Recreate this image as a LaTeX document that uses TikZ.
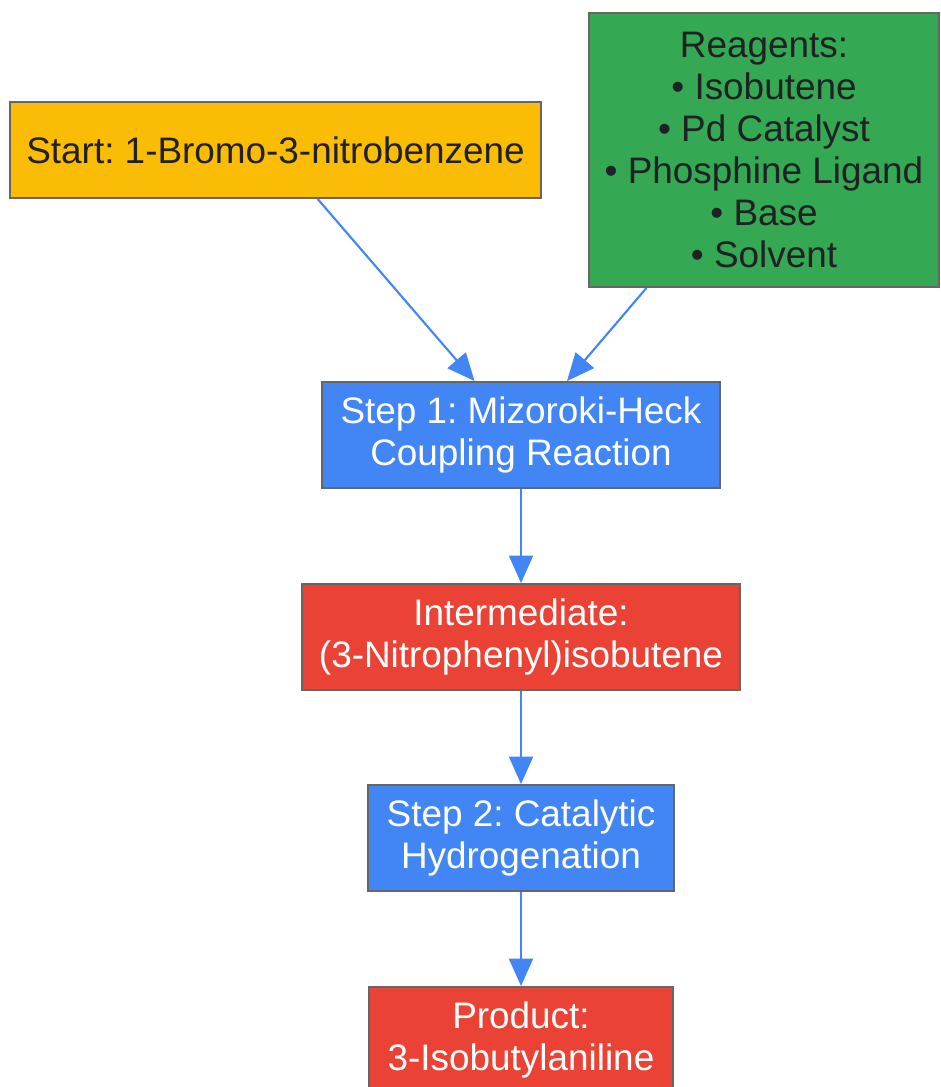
\documentclass[tikz,border=0pt]{standalone}
\usepackage{fontspec}
\setmainfont{Liberation Sans}
\usetikzlibrary{arrows.meta}
\frenchspacing

\definecolor{startyellow}{HTML}{FBBC05}
\definecolor{reagentgreen}{HTML}{34A853}
\definecolor{stepblue}{HTML}{4285F4}
\definecolor{productred}{HTML}{EA4335}
\definecolor{edgegray}{HTML}{666666}
\definecolor{darktext}{HTML}{202124}

\begin{document}
\begin{tikzpicture}[x=0.02cm, y=-0.02cm,
	box/.style={draw=edgegray, line width=1.1pt, align=center, inner sep=0pt,
		font=\fontsize{21}{23.9}\selectfont},
	flow/.style={draw=stepblue, line width=1.2pt, -{Triangle[length=0.55cm,width=0.48cm]}}]
				\useasboundingbox (0,0) rectangle (940,1087);

				% inputs
				\node[box, fill=startyellow, text=darktext, minimum width=10.62cm, minimum height=1.92cm] (start) at (275.5,150) {Start: 1-Bromo-3-nitrobenzene};
				\node[box, fill=reagentgreen, text=darktext, minimum width=7.0cm, minimum height=5.48cm] (reagents) at (764,150) {Reagents:\\ • Isobutene\\ • Pd Catalyst\\ • Phosphine Ligand\\ • Base\\ • Solvent};

				% steps and products
				\node[box, fill=stepblue, text=white, minimum width=7.96cm, minimum height=2.12cm] (heck) at (521,435) {Step 1: Mizoroki-Heck\\ Coupling Reaction};
				\node[box, fill=productred, text=white, minimum width=8.76cm, minimum height=2.12cm] (inter) at (521,637) {Intermediate:\\ (3-Nitrophenyl)isobutene};
				\node[box, fill=stepblue, text=white, minimum width=6.12cm, minimum height=2.12cm] (hydro) at (521,838) {Step 2: Catalytic\\ Hydrogenation};
				\node[box, fill=productred, text=white, minimum width=6.08cm, minimum height=2.12cm] (product) at (521,1040) {Product:\\ 3-Isobutylaniline};

				\draw[flow] (start) -- (heck);
				\draw[flow] (reagents) -- (heck);
				\draw[flow] (heck) -- (inter);
				\draw[flow] (inter) -- (hydro);
				\draw[flow] (hydro) -- (product);
\end{tikzpicture}
\end{document}
